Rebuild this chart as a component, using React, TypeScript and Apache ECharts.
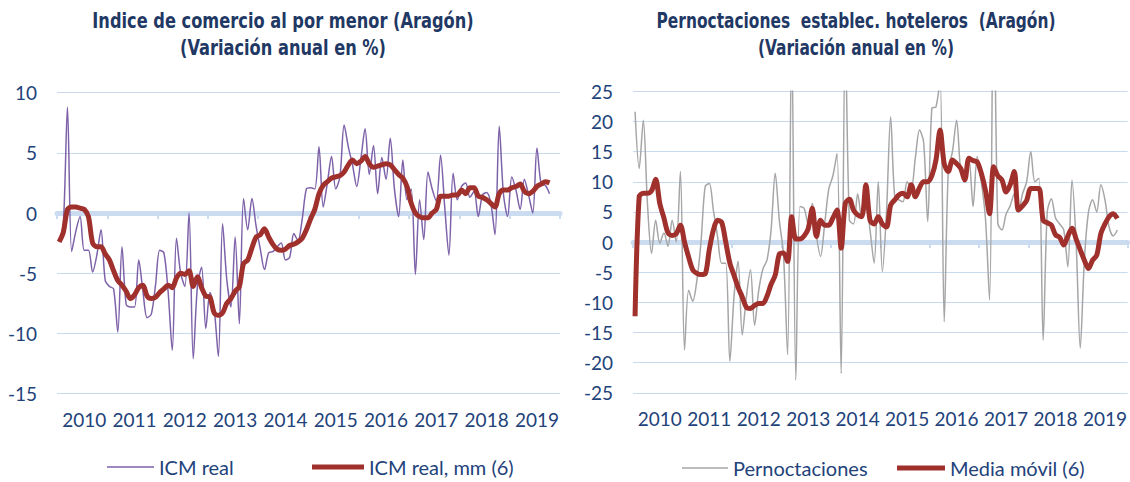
import React, { useEffect, useRef } from 'react';
import * as echarts from 'echarts';

const years = ['2010', '2011', '2012', '2013', '2014', '2015', '2016', '2017', '2018', '2019'];
const monthNums = ['01', '02', '03', '04', '05', '06', '07', '08', '09', '10', '11', '12'];
const months = years.flatMap((y) => monthNums.map((m) => `${y}-${m}`));

const leftTicks = [-15, -10, -5, 0, 5, 10];
const rightTicks = [-25, -20, -15, -10, -5, 0, 5, 10, 15, 20, 25];

const icmReal = [
  -2.4, -1.0, 8.8, -3.2, -1.5, -0.3, -3.1, -3.1, -4.9, -3.5, -1.4, -5.6,
  -6.1, -6.3, -9.9, -2.8, -7.6, -7.8, -7.8, -3.9, -6.5, -8.7, -8.4, -6.0,
  -3.1, -3.3, -6.5, -11.4, -2.1, -5.0, -6.1, 0.0, -12.1, -6.1, -4.5, -9.6,
  -6.6, -8.0, -11.9, -0.9, -5.5, -7.8, -2.0, -9.2, 1.2, -1.4, 1.2, -1.1,
  -3.0, -4.7, -3.3, -3.2, -2.8, -2.5, -3.9, -3.7, -1.7, -2.3, -0.5, 2.0,
  2.1, 2.0, 5.5, 0.5, 2.5, 4.7, 2.0, 3.0, 7.3, 5.5, 4.0, 2.2,
  4.5, 7.0, 3.2, 5.6, 1.6, 4.6, 2.8, 6.2, 2.0, -0.3, 4.4, 1.1,
  2.0, -5.1, 1.1, -2.2, 3.4, 2.0, 1.0, 4.8, 0.5, -3.5, 3.3, 1.1,
  2.2, 2.5, 1.3, 1.8, -0.3, 1.5, 1.7, 0.8, -1.8, 7.2, 1.6, -0.3,
  3.0, 1.9, 0.3, 2.8, 1.5, 0.0, 5.4, 2.4, 2.3, 1.6,
];

const icmMM6 = [
  -2.4, -1.6, 0.3, 0.5, 0.5, 0.4, 0.3, -0.3, -2.5, -2.8, -2.8, -3.4,
  -3.9, -4.8, -5.6, -6.0, -6.5, -7.1, -6.8, -6.2, -6.0, -6.9, -7.1, -7.0,
  -6.6, -6.3, -6.0, -6.2, -5.4, -5.0, -5.1, -4.8, -6.1, -5.3, -6.2, -6.9,
  -7.0, -8.3, -8.5, -8.3, -7.5, -7.1, -6.5, -6.1, -4.2, -3.9, -2.9, -2.0,
  -1.8, -1.3, -2.0, -2.6, -3.0, -3.1, -3.0, -2.7, -2.6, -2.4, -2.1, -1.4,
  -0.5, 0.3, 1.6, 2.3, 2.6, 2.9, 3.0, 3.1, 3.4, 4.0, 4.4, 4.1,
  4.3, 4.7, 4.1, 3.8, 3.9, 4.0, 4.1, 4.0, 3.6, 3.2, 2.9, 2.2,
  0.8, 0.0, -0.3, -0.4, -0.4, 0.0, 0.3, 1.4, 1.4, 1.4, 1.5, 1.5,
  1.9, 1.6, 2.1, 2.1, 1.4, 1.3, 1.1, 0.8, 0.5, 1.6, 1.9, 1.9,
  2.1, 2.2, 2.4, 1.8, 1.6, 1.8, 2.2, 2.4, 2.6, 2.5,
];

const pernoctaciones = [
  21.6, 12.2, 20.2, 6.4, -1.9, 3.6, -0.2, 1.5, -0.7, 3.6, 0.0, 11.7,
  -17.9, -8.0, -9.8, -6.3, 0.0, 9.2, 9.7, 5.3, 1.0, -3.5, -3.5, -19.8,
  -9.1, -3.2, -15.4, -9.1, -4.6, -13.8, -8.0, -4.5, -3.0, 2.0, 11.4, 3.6,
  -2.0, -18.7, 35.0, -22.9, 5.9, 5.6, 3.0, 6.4, 1.0, -2.4, 3.0, 8.8,
  11.0, 14.7, -21.8, 35.0, 3.6, 3.0, 8.0, 4.0, 7.0, 2.0, -3.5, 10.0,
  -4.9, 5.0, 20.8, 7.5, 7.0, 6.7, 10.0, 9.0, 14.0, 18.6, 16.6, 3.4,
  22.2, 22.4, 27.0, -13.2, 11.9, 15.0, 20.2, 11.9, 10.0, 13.9, 5.9, 14.2,
  10.0, 4.0, -9.6, 45.0, 3.1, 2.0, 4.6, 6.0, 8.0, 5.0, 8.0, 10.0,
  15.0, 10.0, 10.6, -16.3, 5.0, 7.2, 4.0, 3.0, 2.0, -4.1, 10.3, 0.0,
  -17.6, -3.0, 5.0, 7.0, 5.0, 9.5, 7.0, 2.5, 1.0, 2.0,
];

const mediaMovil = [
  -12.3, 7.5, 8.1, 8.1, 8.5, 10.4, 6.4, 4.0, 1.5, 1.1, 1.4, 2.8,
  0.0, -2.5, -4.6, -5.2, -5.4, -5.3, -1.3, 2.0, 3.6, 3.3, 0.0, -3.5,
  -5.5, -7.5, -9.1, -10.8, -11.0, -10.5, -10.2, -10.2, -9.0, -7.0, -5.5, -2.0,
  -1.8, -3.2, 4.2, 0.5, 0.5, 1.0, 2.2, 5.6, 0.9, 3.6, 2.8, 2.8,
  4.0, 5.3, -1.0, 6.4, 7.1, 5.3, 4.5, 4.2, 9.5, 3.6, 3.0, 4.2,
  3.0, 2.5, 6.1, 7.0, 7.8, 8.1, 7.5, 9.5, 7.5, 9.0, 10.0, 10.0,
  11.0, 13.6, 18.6, 13.0, 11.7, 13.6, 13.0, 12.2, 10.3, 13.9, 13.5, 13.3,
  11.4, 8.6, 4.7, 12.5, 11.0, 10.3, 8.3, 9.5, 11.7, 5.3, 6.0, 6.9,
  8.9, 8.9, 8.9, 3.6, 3.2, 2.8, 1.2, 0.8, -0.5, 1.0, 2.3, 0.5,
  -1.3, -3.0, -4.4, -3.0, -2.2, 1.4, 3.0, 4.2, 4.7, 3.9,
];

const NAVY = '#22427A';
const TITLE_NAVY = '#1F3864';
const GRID = '#C8DAF0';
const ZERO = '#CBDCF1';
const PURPLE = '#7E62A9';
const RED = '#A0302C';
const GRAY = '#A6A6A6';
const FONT = 'Lato, "Open Sans", sans-serif';
const TITLE_FONT = '"DejaVu Sans Condensed", "Liberation Sans Narrow", sans-serif';

function labelAxis(gridIndex: number) {
  return {
    type: 'category',
    gridIndex,
    data: months,
    boundaryGap: true,
    axisLine: { show: false, onZero: false },
    axisTick: { show: false },
    splitLine: { show: false },
    axisLabel: {
      interval: (i: number) => i % 12 === 6,
      formatter: (v: string) => v.slice(0, 4),
      color: NAVY,
      fontSize: 19,
      fontFamily: FONT,
      margin: 16,
    },
  };
}

function zeroAxis(gridIndex: number) {
  return {
    type: 'category',
    gridIndex,
    data: months,
    boundaryGap: true,
    position: 'bottom',
    axisLine: { show: true, onZero: true, lineStyle: { color: ZERO, width: 5 } },
    axisTick: { show: true, interval: (i: number) => i % 12 === 0, length: 6, lineStyle: { color: ZERO, width: 2 } },
    axisLabel: { show: false },
    splitLine: { show: false },
  };
}

function valueAxis(gridIndex: number, ticks: number[]) {
  return {
    type: 'value',
    gridIndex,
    min: ticks[0],
    max: ticks[ticks.length - 1],
    interval: ticks[1] - ticks[0],
    axisLine: { show: false },
    axisTick: { show: false },
    axisLabel: { color: NAVY, fontSize: 19, fontFamily: FONT, margin: 20 },
    splitLine: { show: true, lineStyle: { color: GRID, width: 1 } },
  };
}

function legendItem(name: string, color: string, left: number, top: number, w: number, h: number) {
  return {
    data: [{ name, icon: 'rect', itemStyle: { color } }],
    left,
    top,
    itemWidth: w,
    itemHeight: h,
    textStyle: { color: NAVY, fontSize: 20, fontFamily: FONT },
  };
}

export default function App() {
  const ref = useRef<HTMLDivElement>(null);

  useEffect(() => {
    if (!ref.current) return;
    const chart = echarts.init(ref.current, undefined, { renderer: 'svg' });
    const titleStyle = {
      fill: TITLE_NAVY,
      fontFamily: TITLE_FONT,
      fontWeight: 'bold',
      fontSize: 22,
      lineHeight: 27,
      align: 'center',
      verticalAlign: 'top',
    };
    chart.setOption({
      animation: false,
      backgroundColor: '#ffffff',
      grid: [
        { left: 57, top: 92.6, width: 503, height: 301 },
        { left: 633, top: 91.3, width: 497, height: 301.5 },
      ],
      xAxis: [labelAxis(0), zeroAxis(0), labelAxis(1), zeroAxis(1)],
      yAxis: [valueAxis(0, leftTicks), valueAxis(1, rightTicks)],
      graphic: [
        {
          type: 'text',
          x: 283,
          y: 7,
          scaleX: 0.82,
          style: { ...titleStyle, text: 'Indice de comercio al por menor (Aragón)\n(Variación anual en %)' },
        },
        {
          type: 'text',
          x: 856,
          y: 7,
          scaleX: 0.78,
          style: { ...titleStyle, text: 'Pernoctaciones  establec. hoteleros  (Aragón)\n(Variación anual en %)' },
        },
      ],
      legend: [
        legendItem('ICM real', PURPLE, 102, 452, 47, 1.5),
        legendItem('ICM real, mm (6)', RED, 307, 452, 52, 5),
        legendItem('Pernoctaciones', GRAY, 677, 453, 46, 1.5),
        legendItem('Media móvil (6)', RED, 892, 453, 48, 5),
      ],
      series: [
        {
          name: 'ICM real',
          type: 'line',
          xAxisIndex: 0,
          yAxisIndex: 0,
          data: icmReal,
          symbol: 'none',
          smooth: 0.3,
          lineStyle: { color: PURPLE, width: 1.5 },
          itemStyle: { color: PURPLE },
          z: 3,
        },
        {
          name: 'ICM real, mm (6)',
          type: 'line',
          xAxisIndex: 0,
          yAxisIndex: 0,
          data: icmMM6,
          symbol: 'none',
          smooth: 0.3,
          lineStyle: { color: RED, width: 5 },
          itemStyle: { color: RED },
          z: 4,
        },
        {
          name: 'Pernoctaciones',
          type: 'line',
          xAxisIndex: 2,
          yAxisIndex: 1,
          data: pernoctaciones,
          symbol: 'none',
          smooth: 0.3,
          lineStyle: { color: GRAY, width: 1.5 },
          itemStyle: { color: GRAY },
          z: 3,
        },
        {
          name: 'Media móvil (6)',
          type: 'line',
          xAxisIndex: 2,
          yAxisIndex: 1,
          data: mediaMovil,
          symbol: 'none',
          smooth: 0.3,
          lineStyle: { color: RED, width: 5 },
          itemStyle: { color: RED },
          z: 4,
        },
      ],
    });
    return () => chart.dispose();
  }, []);

  return (
    <div
      ref={ref}
      style={{ position: 'absolute', left: 0, top: 0, width: 1130, height: 482, background: '#fff' }}
    />
  );
}
